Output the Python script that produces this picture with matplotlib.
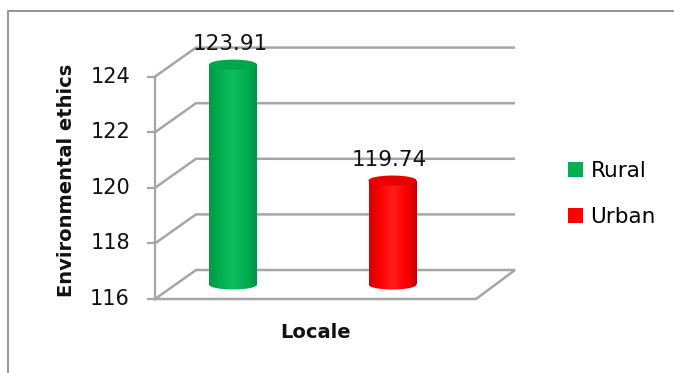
import matplotlib
matplotlib.use("Agg")
import matplotlib.pyplot as plt
import numpy as np
from matplotlib.patches import Ellipse, Rectangle, Patch
from matplotlib.colors import LinearSegmentedColormap

# ---- data ----
categories = ["Rural", "Urban"]
values = [123.91, 119.74]
value_labels = ["123.91", "119.74"]
yticks = [116, 118, 120, 122, 124]
ylabel = "Environmental ethics"
xlabel = "Locale"

# ---- style ----
body_colors = [("#009A45", "#00B050", "#0EBD5C", "#00B050", "#00964A"),
               ("#D20000", "#FF0000", "#FF1C1C", "#FF0000", "#CC0000")]
top_colors = ["#00A64A", "#E60000"]
grid_col = "#A6A6A6"

W, H = 674, 373
fig = plt.figure(figsize=(W / 100, H / 100), dpi=100)

# pixel geometry of the plot box
px_front_left, px_back_left, px_back_right, px_front_right = 155, 196, 515, 476
px_y116, px_per_unit = 299, 27.8
px_cat0, px_per_cat = 233, 159.5
top_px = 40

x0 = (px_front_left - px_cat0) / px_per_cat
xr = (px_back_right - px_cat0) / px_per_cat
xfr = (px_front_right - px_cat0) / px_per_cat
dx = (px_back_left - px_front_left) / px_per_cat
dz = 29 / px_per_unit
ymin = yticks[0]
ymax = ymin + (px_y116 - top_px) / px_per_unit

ax = fig.add_axes([px_front_left / W, 1 - px_y116 / H,
                   (px_back_right - px_front_left) / W, (px_y116 - top_px) / H])
ax.set_axis_off()

# outer border (top and left visible, right/bottom beyond the image)
fig.patches.append(Rectangle((8 / W, -0.1), 1.0, 1.1 - 11 / H,
                             transform=fig.transFigure, fill=False,
                             edgecolor="#8C8C8C", linewidth=1.3))

# walls / gridlines
for v in yticks[1:]:
    ax.plot([x0, x0 + dx, xr], [v, v + dz, v + dz], color=grid_col, lw=1.8,
            clip_on=False, zorder=1, solid_capstyle="butt")
# floor
ax.plot([x0, x0 + dx, xr, xfr, x0], [ymin, ymin + dz, ymin + dz, ymin, ymin],
        color=grid_col, lw=1.8, clip_on=False, zorder=1, solid_joinstyle="miter")
# front vertical axis
ax.plot([x0, x0], [ymin, yticks[-1]], color=grid_col, lw=1.6, clip_on=False, zorder=2)
for v in yticks:
    ax.plot([x0 - 7 / px_per_cat, x0], [v, v], color=grid_col, lw=1.6, clip_on=False, zorder=2)
    ax.text(x0 - 25 / px_per_cat, v, str(v), ha="right", va="center",
            fontsize=15, color="#111111")

# cylinders
bw = 48 / px_per_cat
eh = 10 / px_per_unit
base = ymin + dz / 2
xs = np.arange(len(values))
bars = ax.bar(xs, [v - ymin for v in values], width=bw, bottom=base,
              color="none", edgecolor="none", zorder=3)
grad = np.linspace(0, 1, 256).reshape(1, -1)
for i, (b, v) in enumerate(zip(bars, values)):
    cmap = LinearSegmentedColormap.from_list("c%d" % i, body_colors[i])
    xl = b.get_x()
    xc = xl + bw / 2
    topv = b.get_y() + b.get_height()
    # bottom ellipse
    be = Ellipse((xc, base), bw, eh, facecolor="none", edgecolor="none", zorder=3)
    ax.add_patch(be)
    im = ax.imshow(grad, extent=(xl, xl + bw, base - eh, base + eh), cmap=cmap,
                   aspect="auto", zorder=3, interpolation="bilinear")
    im.set_clip_path(be)
    # body
    im2 = ax.imshow(grad, extent=(xl, xl + bw, base, topv), cmap=cmap,
                    aspect="auto", zorder=3.1, interpolation="bilinear")
    im2.set_clip_path(b)
    # top ellipse
    ax.add_patch(Ellipse((xc, topv), bw, eh, facecolor=top_colors[i],
                         edgecolor="none", zorder=3.2))
    ax.annotate(value_labels[i], (xc, topv), xytext=(-3, 21),
                textcoords="offset pixels", ha="center", va="center",
                fontsize=15.5, color="#111111", zorder=4)

ax.set_xlim(x0, xr)
ax.set_ylim(ymin, ymax)

# axis titles
fig.text(67 / W, 1 - 180 / H, ylabel, rotation=90, ha="center", va="center",
         fontsize=14, fontweight="bold", color="#111111")
fig.text(316 / W, 1 - 332 / H, xlabel, ha="center", va="center",
         fontsize=14, fontweight="bold", color="#111111")

# legend
handles = [Patch(facecolor=body_colors[i][1], edgecolor="none") for i in range(len(categories))]
fig.legend(handles, categories, loc="upper left", bbox_to_anchor=(568 / W, 1 - 161 / H),
           frameon=False, fontsize=15.5, handlelength=0.7, handleheight=0.7,
           handletextpad=0.35, labelspacing=1.2, borderpad=0, borderaxespad=0)

fig.savefig("out.png", dpi=100, facecolor="white")
